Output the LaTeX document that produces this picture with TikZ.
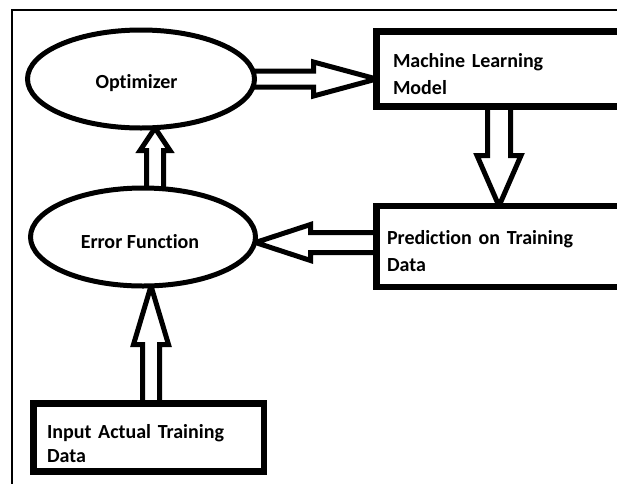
\documentclass[tikz,border=0pt]{standalone}
\usepackage{fontspec}
\setmainfont{Carlito}[Ligatures={NoCommon}]
\usetikzlibrary{shapes.geometric,calc,backgrounds}
\tikzset{
  ell/.style={ellipse, draw=black, line width=5pt, fill=white, inner sep=0pt, outer sep=0pt, text depth=0pt, font=\bfseries\fontsize{20pt}{24pt}\selectfont},
  boxnode/.style={rectangle, draw=black, line width=6.5pt, fill=white, align=left, anchor=north west, outer sep=0pt, inner ysep=0pt, font=\bfseries\fontsize{20pt}{27pt}\selectfont},
  blockarr/.style={draw=black, line width=5pt, fill=white, line join=miter},
  frameline/.style={draw=black, line width=2pt},
}
\newcommand\blockarrow[5]{%
  \coordinate (hb) at ($(#2)!#5!(#1)$);
  \path[blockarr] ($(#1)!#3!90:(#2)$) -- ($(hb)!#3!90:(#2)$) -- ($(hb)!#4!90:(#2)$) -- (#2) -- ($(hb)!#4!-90:(#2)$) -- ($(hb)!#3!-90:(#2)$) -- ($(#1)!#3!-90:(#2)$);
}
\begin{document}
\begin{tikzpicture}[x=1pt,y=-1pt]
\useasboundingbox (0,0) rectangle (617,483);
\draw[frameline] (12,490) -- (12,10) -- (630,10);

\node[ell, minimum width=227pt, minimum height=98pt, text height=19pt] (opt) at (141,79) {\hspace*{-9pt}Optimizer};
\node[ell, minimum width=225pt, minimum height=98pt, text height=23pt] (err) at (143,237) {\hspace*{-6pt}Error Function};
\node[boxnode, text width=250pt, inner xsep=16.5pt, minimum height=75pt] (ml) at (376.5,31.5) {\rule{0pt}{24pt}Machine Learning\\Model};
\node[boxnode, text width=250pt, inner xsep=10.5pt, minimum height=81pt] (pred) at (376.5,206) {\rule{0pt}{24pt}Prediction on Training\\Data};
\node[boxnode, text width=203pt, inner xsep=13.75pt, minimum height=68pt, font=\bfseries\fontsize{20pt}{24pt}\selectfont] (inp) at (33.25,403.25) {\rule{0pt}{26pt}Input Actual Training\\Data};

\begin{pgfonlayer}{background}
  \coordinate (a1s) at (opt.center);
  \coordinate (a1t) at (opt.center -| ml.west);
  \blockarrow{a1s}{a1t}{8pt}{17pt}{63pt}
  \coordinate (a2s) at ($(ml.south west)+(122.5,-10)$);
  \coordinate (a2t) at (a2s |- pred.north);
  \blockarrow{a2s}{a2t}{11.5pt}{22pt}{50.5pt}
  \coordinate (a3s) at ($(pred.west)+(10,-4)$);
  \coordinate (a3t) at (a3s -| err.east);
  \blockarrow{a3s}{a3t}{10pt}{18pt}{55pt}
  \coordinate (a4s) at ($(err.north)+(12,10)$);
  \coordinate (a4t) at (a4s |- opt.south);
  \blockarrow{a4s}{a4t}{8.5pt}{15pt}{22.5pt}
  \coordinate (a5s) at ($(inp.north)+(2.5,10)$);
  \coordinate (a5t) at (a5s |- err.south);
  \blockarrow{a5s}{a5t}{8.5pt}{17.5pt}{58.5pt}
\end{pgfonlayer}
\end{tikzpicture}
\end{document}
